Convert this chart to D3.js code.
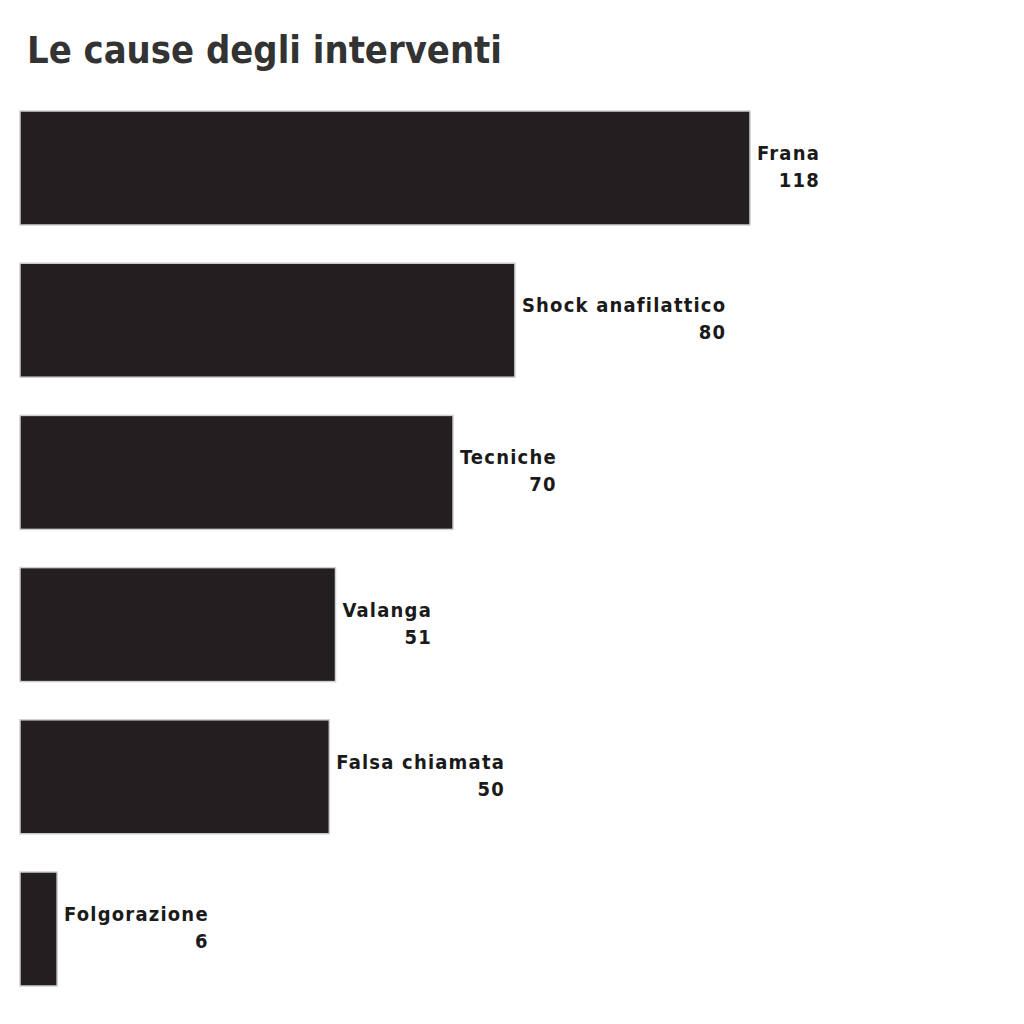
<!DOCTYPE html>
<html><head><meta charset="utf-8">
<script src="https://cdn.jsdelivr.net/npm/d3@7"></script>
<style>body{margin:0;background:#fff}</style>
</head><body>
<svg id="c" width="1024" height="1024"></svg>
<script>
const categories = ["Frana","Shock anafilattico","Tecniche","Valanga","Falsa chiamata","Folgorazione"];
const values = [118,80,70,51,50,6];
const title = "Le cause degli interventi";

const svg = d3.select("#c");
svg.append("rect").attr("width",1024).attr("height",1024).attr("fill","#fff");
const x = d3.scaleLinear().domain([0,118]).range([20,750]);
const y = d3.scaleBand().domain(categories).range([111,986]).paddingInner(0.251).paddingOuter(0);

svg.append("text").attr("x",27).attr("y",63).text(title)
  .attr("font-family","DejaVu Sans").attr("font-weight","bold").attr("font-size",37)
  .attr("fill","#333").attr("textLength",475).attr("lengthAdjust","spacingAndGlyphs");

const g = svg.selectAll("g.bar").data(categories).enter().append("g");
g.append("rect").attr("x",x(0)).attr("y",d=>y(d)).attr("height",y.bandwidth())
  .attr("width",(d,i)=>x(values[i])-x(0)).attr("fill","#231f20").attr("stroke","#d0d0d0").attr("stroke-width",1.5);
g.each(function(d,i){
  const sel = d3.select(this);
  const cy = y(d)+y.bandwidth()/2;
  const t = sel.append("text").text(d).attr("font-family","DejaVu Sans Condensed").attr("font-weight","bold")
    .attr("font-size",20).attr("fill","#1a1a1a").attr("letter-spacing",1.2);
  const w = t.node().getComputedTextLength();
  const right = x(values[i]) + 7 + w;
  t.attr("x",right).attr("y",cy-8).attr("text-anchor","end");
  sel.append("text").text(values[i]).attr("font-family","DejaVu Sans Condensed").attr("font-weight","bold")
    .attr("font-size",20).attr("fill","#1a1a1a").attr("letter-spacing",1.2)
    .attr("x",right).attr("y",cy+19).attr("text-anchor","end");
});
</script>
</body></html>
